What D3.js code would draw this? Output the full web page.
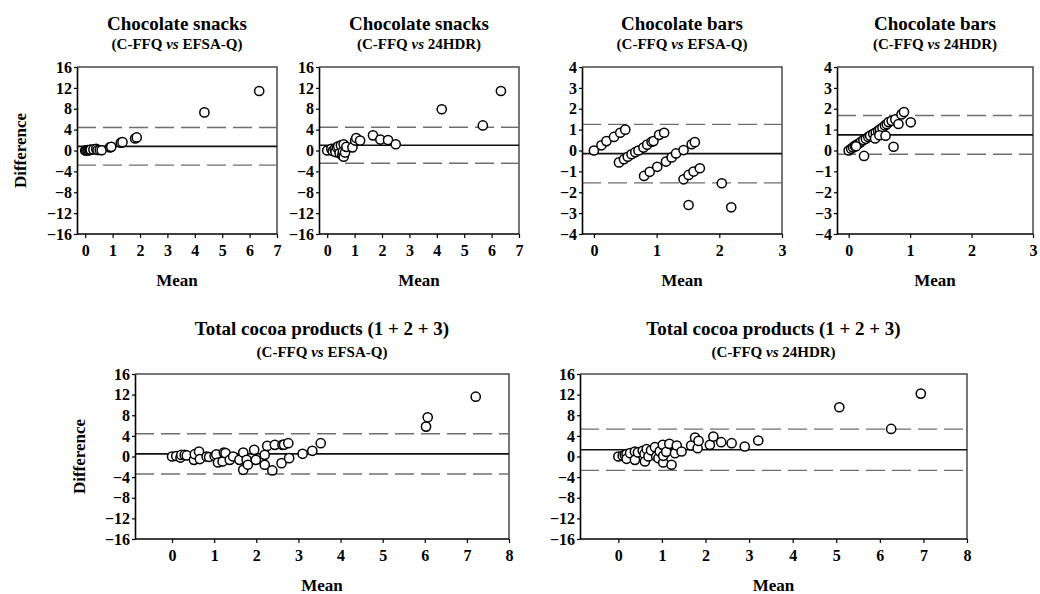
<!DOCTYPE html>
<html>
<head>
<meta charset="utf-8">
<script src="https://cdn.jsdelivr.net/npm/d3@7"></script>
<style>
  html, body { margin: 0; padding: 0; background: #fff; }
  svg { display: block; }
  text { font-family: "Liberation Serif", "Times New Roman", serif; font-weight: bold; fill: #000; }
</style>
</head>
<body>
<svg id="chart" width="1040" height="594"></svg>
<script>
// Bland-Altman plots: difference vs mean of two dietary assessment methods.
// Each point is [mean, difference]; limits are [bias, upper LoA, lower LoA].

const snacksEfsa = [
  [0,0],[0.03,0.05],[0.08,0.1],[0.12,0],[0.16,0.1],[0.2,0.15],[0.3,0.2],[0.4,0.3],
  [0.45,0.1],[0.53,0.1],[0.6,0.05],[0.9,0.6],[0.95,0.7],[1.3,1.5],[1.36,1.6],
  [1.82,2.3],[1.88,2.5],[4.35,7.3],[6.35,11.4]
];
const snacksEfsaLimits = [0.8, 4.4, -2.8];

const snacks24 = [
  [0,0],[0.15,0.3],[0.2,-0.1],[0.27,0.3],[0.3,-0.3],[0.35,0.6],[0.4,0.8],[0.45,-0.5],
  [0.5,1.0],[0.55,-0.9],[0.57,-0.2],[0.6,-1.2],[0.6,1.2],[0.65,-0.4],[0.7,0.7],
  [0.92,0.6],[1.02,1.9],[1.06,2.4],[1.2,1.9],[1.67,2.9],[1.94,2.1],[2.22,2.0],
  [2.5,1.2],[4.18,7.9],[5.68,4.8],[6.34,11.4]
];
const snacks24Limits = [1.0, 4.45, -2.45];

const barsEfsa = [
  [0,0],[0.12,0.25],[0.2,0.45],[0.32,0.65],[0.42,0.85],[0.5,1.0],
  [0.4,-0.57],[0.48,-0.42],[0.54,-0.3],[0.6,-0.18],[0.66,-0.08],[0.71,0.0],[0.79,0.14],
  [0.85,0.28],[0.92,0.42],[0.95,0.45],[1.04,0.75],[1.12,0.85],
  [0.8,-1.22],[0.89,-1.02],[1.01,-0.78],[1.15,-0.53],[1.24,-0.33],[1.31,-0.14],
  [1.43,0.02],[1.56,0.3],[1.61,0.4],
  [1.43,-1.38],[1.51,-1.17],[1.59,-1.01],[1.69,-0.85],
  [1.51,-2.61],[2.04,-1.57],[2.19,-2.72]
];
const barsEfsaLimits = [-0.15, 1.25, -1.55];

const bars24 = [
  [0,0],[0.04,0.08],[0.07,0.15],[0.1,0.22],[0.14,0.3],[0.18,0.36],[0.2,0.42],[0.24,0.5],
  [0.28,0.56],[0.32,0.65],[0.35,0.71],[0.4,0.8],[0.44,0.86],[0.48,0.95],[0.51,1.01],
  [0.55,1.1],[0.59,1.2],[0.62,1.26],[0.65,1.36],[0.7,1.42],[0.76,1.49],[0.86,1.73],[0.9,1.84],
  [0.12,0.2],[0.25,-0.26],[0.43,0.58],[0.5,0.73],[0.6,0.71],[0.73,0.18],[0.81,1.27],[1.01,1.35]
];
const bars24Limits = [0.75, 1.68, -0.18];

const totalEfsa = [
  [0,0],[0.1,0.1],[0.2,-0.2],[0.22,0.3],[0.3,0.3],[0.35,0.2],[0.52,-0.65],[0.54,0.45],
  [0.64,0.97],[0.66,-0.5],[0.82,0],[0.88,-0.1],[1.01,0.1],[1.05,0.4],[1.09,-1.16],
  [1.2,-0.97],[1.23,0.77],[1.27,0.65],[1.37,-0.65],[1.45,0],[1.6,-0.65],[1.69,0.77],
  [1.69,-2.58],[1.77,-0.65],[1.8,-1.6],[1.95,1.29],[1.99,-0.65],[2.2,0.32],[2.2,-1.6],
  [2.26,2.06],[2.38,-2.7],[2.44,2.26],[2.6,-1.29],[2.62,2.26],[2.66,2.3],[2.76,2.58],
  [2.78,-0.32],[3.1,0.52],[3.33,1.1],[3.53,2.58],[6.03,5.8],[6.07,7.6],[7.21,11.6]
];
const totalEfsaLimits = [0.5, 4.4, -3.4];

const total24 = [
  [0,0],[0.1,0.13],[0.15,0.3],[0.19,0.45],[0.19,-0.45],[0.27,0.65],[0.38,0.97],[0.38,-0.65],
  [0.45,0.8],[0.56,1.1],[0.6,0.5],[0.61,-0.97],[0.65,1.42],[0.69,0],[0.75,1.2],[0.84,1.8],
  [0.87,0],[0.92,-0.32],[0.95,1.0],[1.02,2.26],[1.03,-1.16],[1.03,0.13],[1.1,0.9],
  [1.17,2.45],[1.22,-1.6],[1.3,0.65],[1.34,2.13],[1.45,0.97],[1.67,2.13],[1.76,3.68],
  [1.82,1.61],[1.84,3.03],[2.1,2.26],[2.18,3.87],[2.36,2.77],[2.6,2.58],[2.9,1.94],
  [3.21,3.1],[5.07,9.55],[6.26,5.35],[6.94,12.2]
];
const total24Limits = [1.3, 5.3, -2.7];

// Tick values
const yTicksWide = [16, 12, 8, 4, 0, -4, -8, -12, -16];
const yTicksNarrow = [4, 3, 2, 1, 0, -1, -2, -3, -4];
const xTicksSnacks = [0, 1, 2, 3, 4, 5, 6, 7];
const xTicksBars = [0, 1, 2, 3];
const xTicksTotal = [0, 1, 2, 3, 4, 5, 6, 7, 8];

const svg = d3.select("#chart");
const intFmt = d3.format("d");

function panel(o) {
  const x = d3.scaleLinear().domain(o.xDomain).range([o.left, o.right]);
  const y = d3.scaleLinear().domain(o.yDomain).range([o.bottom, o.top]);
  const g = svg.append("g");

  // frame (top and right sides)
  g.append("path")
    .attr("d", `M${o.left},${o.top}H${o.right}V${o.bottom}`)
    .attr("fill", "none").attr("stroke", "#4a4a4a").attr("stroke-width", 1.5);

  // limits of agreement (dashed) and bias (solid)
  const [bias, upper, lower] = o.limits;
  [upper, lower].forEach(v => {
    g.append("line")
      .attr("x1", o.left).attr("x2", o.right)
      .attr("y1", y(v)).attr("y2", y(v))
      .attr("stroke", "#6e6e6e").attr("stroke-width", 1.4)
      .attr("stroke-dasharray", "19,7");
  });
  g.append("line")
    .attr("x1", o.left).attr("x2", o.right)
    .attr("y1", y(bias)).attr("y2", y(bias))
    .attr("stroke", "#111").attr("stroke-width", 1.6);

  // axes
  const ax = g.append("g").attr("transform", `translate(0,${o.bottom})`)
    .call(d3.axisBottom(x).tickValues(o.xTicks).tickFormat(intFmt)
      .tickSize(4).tickSizeOuter(0).tickPadding(7));
  const ay = g.append("g").attr("transform", `translate(${o.left},0)`)
    .call(d3.axisLeft(y).tickValues(o.yTicks).tickFormat(intFmt)
      .tickSize(3).tickSizeOuter(0).tickPadding(2));
  [ax, ay].forEach(a => {
    a.select(".domain").attr("stroke", "#000").attr("stroke-width", 1.6);
    a.selectAll(".tick line").attr("stroke", "#000").attr("stroke-width", 1.2);
    a.selectAll("text").attr("font-size", 16)
      .attr("font-family", "Liberation Serif, Times New Roman, serif")
      .attr("font-weight", "bold").attr("fill", "#000");
  });
  // the x domain line spans the full plot width
  ax.select(".domain").attr("d", `M${o.left},0H${o.right}`);

  // points
  g.append("g").selectAll("circle").data(o.data).join("circle")
    .attr("cx", d => x(d[0])).attr("cy", d => y(d[1])).attr("r", 4.6)
    .attr("fill", "#fff").attr("stroke", "#000").attr("stroke-width", 1.5);

  // titles
  const cx = (o.left + o.right) / 2;
  g.append("text").attr("x", cx).attr("y", o.titleY).attr("text-anchor", "middle")
    .attr("font-size", o.titleSize).text(o.title);
  const sub = g.append("text").attr("x", cx).attr("y", o.titleY + o.subGap)
    .attr("text-anchor", "middle").attr("font-size", 15);
  sub.append("tspan").text("(C-FFQ ");
  sub.append("tspan").attr("font-style", "italic").text("vs");
  sub.append("tspan").text(" " + o.method + ")");

  // axis titles
  g.append("text").attr("x", cx).attr("y", o.meanY).attr("text-anchor", "middle")
    .attr("font-size", 17).text("Mean");
  if (o.diffX) {
    g.append("text")
      .attr("transform", `translate(${o.diffX},${(o.top + o.bottom) / 2}) rotate(-90)`)
      .attr("text-anchor", "middle").attr("dy", "0.35em")
      .attr("font-size", 17).text("Difference");
  }
}

const topRow = { top: 67, bottom: 234, titleY: 30, subGap: 19, titleSize: 19, meanY: 286 };
const botRow = { top: 374, bottom: 539, titleY: 335, subGap: 22, titleSize: 19, meanY: 591 };

panel({ ...topRow, left: 77, right: 277, xDomain: [-0.3, 7], yDomain: [-16, 16],
  xTicks: xTicksSnacks, yTicks: yTicksWide, data: snacksEfsa, limits: snacksEfsaLimits,
  title: "Chocolate snacks", method: "EFSA-Q", diffX: 20 });
panel({ ...topRow, left: 319, right: 519, xDomain: [-0.3, 7], yDomain: [-16, 16],
  xTicks: xTicksSnacks, yTicks: yTicksWide, data: snacks24, limits: snacks24Limits,
  title: "Chocolate snacks", method: "24HDR" });
panel({ ...topRow, left: 582, right: 782, xDomain: [-0.19, 3], yDomain: [-4, 4],
  xTicks: xTicksBars, yTicks: yTicksNarrow, data: barsEfsa, limits: barsEfsaLimits,
  title: "Chocolate bars", method: "EFSA-Q" });
panel({ ...topRow, left: 837, right: 1033, xDomain: [-0.19, 3], yDomain: [-4, 4],
  xTicks: xTicksBars, yTicks: yTicksNarrow, data: bars24, limits: bars24Limits,
  title: "Chocolate bars", method: "24HDR" });
panel({ ...botRow, left: 135, right: 509, xDomain: [-0.88, 8], yDomain: [-16, 16],
  xTicks: xTicksTotal, yTicks: yTicksWide, data: totalEfsa, limits: totalEfsaLimits,
  title: "Total cocoa products (1 + 2 + 3)", method: "EFSA-Q", diffX: 79 });
panel({ ...botRow, left: 580, right: 967, xDomain: [-0.88, 8], yDomain: [-16, 16],
  xTicks: xTicksTotal, yTicks: yTicksWide, data: total24, limits: total24Limits,
  title: "Total cocoa products (1 + 2 + 3)", method: "24HDR" });
</script>
</body>
</html>
